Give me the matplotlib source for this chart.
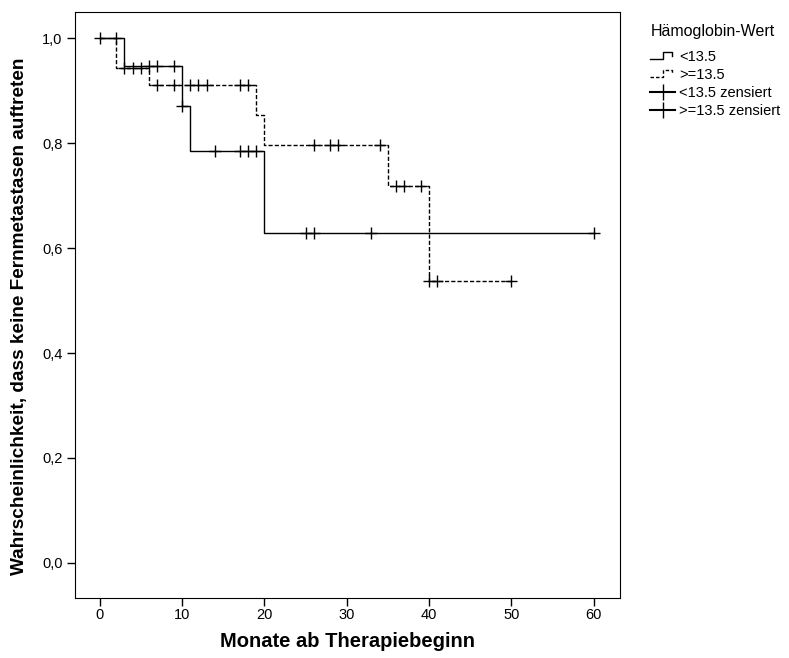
import matplotlib
matplotlib.use("Agg")
import matplotlib.pyplot as plt
from matplotlib.lines import Line2D
from matplotlib.legend_handler import HandlerBase
from matplotlib.ticker import FuncFormatter

plt.rcParams['font.family'] = ['Liberation Sans', 'DejaVu Sans']

# ---------------- data ----------------
# group <13.5 (solid)
low_t = [0, 3, 10, 11, 20, 60]
low_s = [1.0, 0.947, 0.870, 0.784, 0.628, 0.628]
low_cens_t = [2, 6, 7, 9, 10, 14, 17, 18, 19, 25, 26, 33, 60]

# group >=13.5 (dashed)
high_t = [0, 2, 6, 19, 20, 35, 40, 50]
high_s = [1.0, 0.943, 0.911, 0.853, 0.796, 0.718, 0.538, 0.538]
high_cens_t = [0, 3, 4, 5, 7, 9, 11, 12, 13, 17, 18, 26, 28, 29, 34,
               36, 37, 39, 40, 41, 50]

legend_title = "Hämoglobin-Wert"
legend_labels = ["<13.5", ">=13.5", "<13.5 zensiert", ">=13.5 zensiert"]
x_ticks = [0, 10, 20, 30, 40, 50, 60]
y_ticks = [0.0, 0.2, 0.4, 0.6, 0.8, 1.0]


def surv_at(t, times, surv):
    # step function value (right-continuous)
    val = surv[0]
    for ti, si in zip(times, surv):
        if ti <= t:
            val = si
    return val


class StepHandler(HandlerBase):
    def create_artists(self, legend, orig_handle, xdescent, ydescent,
                       width, height, fontsize, trans):
        w, h = width, height
        xs = [0, 0.5 * w, 0.5 * w, 0.88 * w, 0.88 * w]
        ys = [0.15 * h, 0.15 * h, 0.85 * h, 0.85 * h, 0.45 * h]
        ln = Line2D([x - xdescent for x in xs], [y - ydescent for y in ys],
                    color='black', lw=1.0, linestyle=orig_handle.get_linestyle())
        if orig_handle.get_linestyle() != '-':
            ln.set_dashes((2.5, 1.5))
        ln.set_transform(trans)
        return [ln]


# ---------------- plot ----------------
fig = plt.figure(figsize=(7.89, 6.58), dpi=100)
ax = fig.add_axes([0.095, 0.091, 0.691, 0.891])

ax.step(low_t, low_s, where='post', color='black', lw=1.0)
ax.step(high_t, high_s, where='post', color='black', lw=1.0,
        linestyle=(0, (3, 1.5)))

ax.plot(low_cens_t, [surv_at(t, low_t, low_s) for t in low_cens_t],
        linestyle='none', marker='+', ms=9, mew=1.0, color='black')
ax.plot(high_cens_t, [surv_at(t, high_t, high_s) for t in high_cens_t],
        linestyle='none', marker='+', ms=9, mew=1.0, color='black')

ax.set_xlim(-3, 63.2)
ax.set_ylim(-0.067, 1.05)
ax.set_xticks(x_ticks)
ax.set_yticks(y_ticks)
ax.yaxis.set_major_formatter(FuncFormatter(lambda v, p: f"{v:.1f}".replace('.', ',')))
ax.tick_params(direction='out', length=6, width=1, labelsize=10.5, pad=3)
ax.tick_params(axis='x', pad=1)

ax.set_xlabel("Monate ab Therapiebeginn", fontsize=14.5, fontweight='bold', labelpad=7)
ax.set_ylabel("Wahrscheinlichkeit, dass keine Fernmetastasen auftreten",
              fontsize=13.7, fontweight='bold', labelpad=10)
ax.yaxis.label.set_y(0.48)

# legend
h_low = Line2D([], [], color='black', linestyle='-')
h_high = Line2D([], [], color='black', linestyle='--')
h_lc = Line2D([], [], color='black', linestyle='-', marker='|', ms=11, mew=1)
h_hc = Line2D([], [], color='black', linestyle='-', marker='|', ms=11, mew=1)
leg = fig.legend([h_low, h_high, h_lc, h_hc], legend_labels,
                 handler_map={h_low: StepHandler(), h_high: StepHandler()},
                 title=legend_title, loc='upper left',
                 bbox_to_anchor=(0.815, 0.975), frameon=False, borderpad=0,
                 fontsize=10.5, title_fontsize=11.5, handlelength=1.7,
                 handletextpad=0.25, labelspacing=0.28, alignment='left')
leg._legend_box.sep = 8

fig.savefig("out.png", dpi=100)
